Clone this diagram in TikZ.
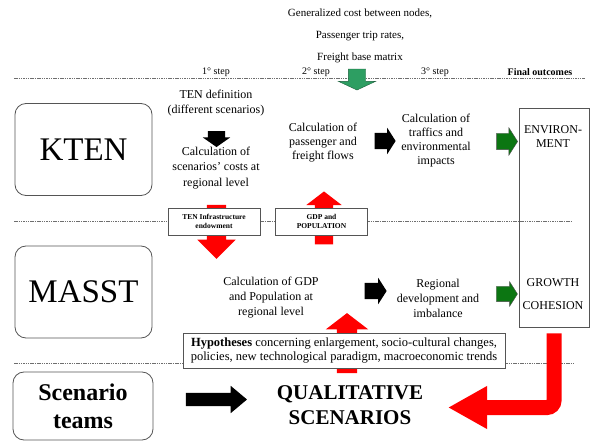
\documentclass[tikz,border=0pt]{standalone}
\usepackage{fontspec}
\setmainfont{Liberation Serif}
\usetikzlibrary{shapes.arrows,arrows.meta,positioning}
\definecolor{sepclr}{RGB}{110,110,110}
\definecolor{boxbdr}{RGB}{85,85,85}
\definecolor{grnlt}{RGB}{45,158,98}
\definecolor{grndk}{RGB}{12,118,18}
\definecolor{redclr}{RGB}{255,0,0}
\tikzset{
  %% model boxes on the left
  mbox/.style={rectangle,rounded corners=11pt,draw=boxbdr,line width=0.8pt,
    minimum width=137pt,minimum height=92pt,align=center,
    font=\fontsize{33}{36}\selectfont},
  %% plain text blocks
  txt/.style={align=center,inner sep=0pt,font=\fontsize{12}{14}\selectfont},
  steplbl/.style={inner sep=0pt,font=\fontsize{10}{12}\selectfont},
  %% interface boxes between the rows
  ibox/.style={rectangle,draw=boxbdr,fill=white,line width=0.8pt,align=center,
    minimum width=92pt,minimum height=27pt,inner sep=1pt,
    font=\fontsize{7.5}{9}\selectfont\bfseries},
  %% outcomes column
  obox/.style={rectangle,draw=boxbdr,line width=0.8pt,
    minimum width=70pt,minimum height=219pt},
  %% separators
  sep/.style={draw=sepclr,line width=0.6pt,dash pattern=on 1.5pt off 0.8pt},
  %% block arrows: #1 = shaft width (hblk pointing right, vblk rotated)
  hblk/.style={single arrow,inner xsep=0pt,inner ysep=#1/2,outer sep=0pt,draw=none},
  vblk/.style={single arrow,inner xsep=#1/2,inner ysep=0pt,outer sep=0pt,draw=none},
  barr/.style={hblk=#1,fill=black,single arrow tip angle=115},
  garr/.style={hblk=#1,fill=grndk,draw=black!70,line width=0.4pt,single arrow tip angle=115},
  rarr/.style={vblk=#1,fill=redclr,single arrow tip angle=100},
  redbend/.style={draw=redclr,line width=15pt,rounded corners=7pt,
    -{Triangle[length=39pt,width=40pt]}},
}

\begin{document}
\begin{tikzpicture}[x=1pt,y=-1pt]
  \useasboundingbox (0,0) rectangle (591,443);

  %% separators and steps
  \draw[sep] (14,78) -- (585,78);
  \draw[sep] (14,221) -- (572,221);
  \draw[sep] (14,363) -- (574,363);
  \node[steplbl] (s1) at (216,72) {1° step};
  \node[steplbl] (s2) at (316,72) {2° step};
  \node[steplbl] (s3) at (435,72) {3° step};
  \node[steplbl,font=\fontsize{10}{12}\selectfont\bfseries] (fo) at (540,72) {Final outcomes};

  %% inputs at the top
  \node[txt,font=\fontsize{11}{22}\selectfont] (inp) at (360,36)
    {Generalized cost between nodes,\\Passenger trip rates,\\Freight base matrix};
  \node[vblk=17pt,fill=grnlt,draw=grnlt!60!black,line width=0.4pt,minimum height=21pt,minimum width=37pt,
    single arrow head extend=10pt,single arrow tip angle=130,shape border rotate=270] (gin) at (357,77.5) {};

  %% red exchange arrows (behind the boxes)
  \node[rarr=19pt,minimum height=54pt,minimum width=38pt,single arrow head extend=9.5pt,
    single arrow tip angle=90,shape border rotate=270] (rten) at (216.5,227) {};
  \node[rarr=18pt,minimum height=53pt,minimum width=35pt,single arrow head extend=8.5pt,
    single arrow tip angle=105,shape border rotate=90] (rgdp) at (324,221.5) {};
  \node[rarr=20pt,minimum height=60pt,minimum width=42pt,single arrow head extend=11pt,
    single arrow tip angle=105,shape border rotate=90] (rhyp) at (347,347) {};

  %% KTEN row
  \node[mbox] (kten) at (83.5,149.5) {KTEN};
  \node[txt,font=\fontsize{12}{15}\selectfont] (tendef) at (216,103)
    {TEN definition\\(different scenarios)};
  \node[vblk=17pt,fill=black,minimum height=16pt,minimum width=27pt,single arrow head extend=5pt,
    single arrow tip angle=110,shape border rotate=270] (b1) at (216.5,136) {};
  \node[txt,font=\fontsize{12}{15.5}\selectfont] (ccost) at (216,168)
    {Calculation of\\scenarios' costs at\\regional level};
  \node[txt] (cflow) at (323,143) {Calculation of\\passenger and\\freight flows};
  \node[barr=16pt,minimum height=21pt,minimum width=26pt,single arrow head extend=5pt] (b2) at (382.5,141) {};
  \node[txt] (ctraf) at (436,141) {Calculation of\\traffics and\\environmental\\impacts};
  \node[garr=16pt,minimum height=21pt,minimum width=27pt,single arrow head extend=5.5pt] (g1) at (504.5,141.5) {};

  %% interface boxes
  \node[ibox] (tinf) at (214,221.5) {TEN Infrastructure\\endowment};
  \node[ibox] (gpop) at (321.5,221.5) {GDP and\\POPULATION};

  %% MASST row
  \node[mbox] (masst) at (83.5,292) {MASST};
  \node[txt,font=\fontsize{12}{15}\selectfont] (cgdp) at (271,298)
    {Calculation of GDP\\and Population at\\regional level};
  \node[barr=16pt,minimum height=22pt,minimum width=26pt,single arrow head extend=5pt] (b3) at (373,291) {};
  \node[txt,font=\fontsize{12}{15}\selectfont] (rdev) at (438,298)
    {Regional\\development and\\imbalance};
  \node[garr=15pt,minimum height=21pt,minimum width=24pt,single arrow head extend=4.5pt] (g2) at (504.5,294) {};

  %% outcomes
  \node[obox] (outc) at (554,217.5) {};
  \node[txt] (env) at (553,137) {ENVIRON-\\MENT};
  \node[txt,font=\fontsize{12}{23}\selectfont] (grow) at (553,294.5) {GROWTH\\COHESION};

  %% hypotheses
  \node[ibox,minimum width=322pt,minimum height=35pt,font=\fontsize{12.5}{13.5}\selectfont] (hyp) at (344,350.5)
    {\textbf{Hypotheses} concerning enlargement, socio-cultural changes,\\policies, new technological paradigm, macroeconomic trends};

  %% scenario row
  \node[mbox,minimum width=140pt,minimum height=68pt,
    font=\fontsize{24}{28}\selectfont\bfseries] (scen) at (83,406) {Scenario\\teams};
  \node[txt,font=\fontsize{21}{25}\selectfont\bfseries] (qual) at (350,405) {QUALITATIVE\\SCENARIOS};
  \node[barr=13pt,minimum height=61pt,minimum width=27pt,single arrow head extend=7pt,
    single arrow tip angle=80] (b4) at (212.5,399.5) {};
  \coordinate (qtip) at (448,407.5);
  \draw[redbend] ([yshift=-6pt]outc.south) |- (qtip);
\end{tikzpicture}
\end{document}
